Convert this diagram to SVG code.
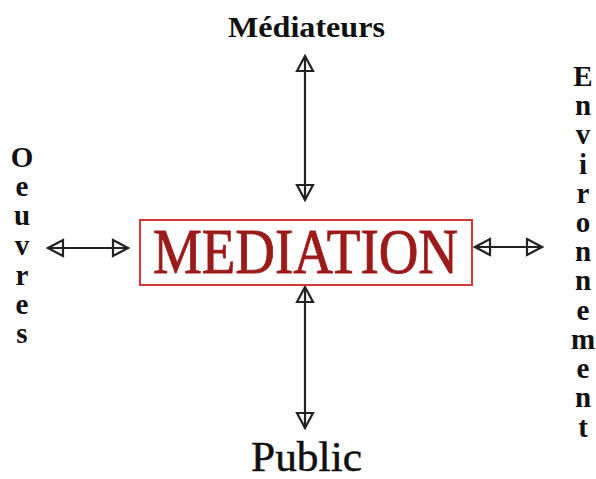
<svg xmlns="http://www.w3.org/2000/svg" width="596" height="479" viewBox="0 0 596 479">
<style>
.lbl{font-family:"Liberation Serif","Times New Roman",serif;fill:#111;}
.vert{font-family:"Liberation Serif","Times New Roman",serif;font-size:29px;font-weight:bold;fill:#111;text-anchor:middle;}
.conn{stroke:#222;stroke-width:2.2;fill:none;marker-start:url(#ah);marker-end:url(#ah);}
</style>
<defs>
<marker id="ah" viewBox="-2 -10 19 20" refX="15" refY="0" markerWidth="19" markerHeight="20" markerUnits="userSpaceOnUse" orient="auto-start-reverse">
<path d="M0,-8 L15,0 L0,8 Z" fill="none" stroke="#222" stroke-width="2.2" stroke-linejoin="miter"/>
</marker>
</defs>
<rect width="596" height="479" fill="#fff"/>
<g id="connectors">
<line class="conn" x1="305" y1="56" x2="305" y2="200"/>
<line class="conn" x1="305" y1="287" x2="305" y2="428"/>
<line class="conn" x1="48" y1="248" x2="128" y2="248"/>
<line class="conn" x1="475" y1="247" x2="542" y2="247"/>
</g>
<g id="mediation">
<rect x="140" y="220" width="332" height="65" fill="#fff" stroke="#d03a3a" stroke-width="2"/>
<text x="153" y="273" font-family="'Liberation Serif','Times New Roman',serif" font-size="64" fill="#9b1b1b" stroke="#9b1b1b" stroke-width="0.9" textLength="305" lengthAdjust="spacingAndGlyphs">MEDIATION</text>
</g>
<g id="mediateurs">
<text class="lbl" x="228" y="37" font-size="29" font-weight="bold" textLength="157" lengthAdjust="spacingAndGlyphs">Médiateurs</text>
</g>
<g id="public">
<text class="lbl" x="251" y="471" font-size="43" stroke="#111" stroke-width="0.5" textLength="111" lengthAdjust="spacingAndGlyphs">Public</text>
</g>
<g id="oeuvres">
<text class="vert" x="22" y="167">O</text>
<text class="vert" x="22" y="196">e</text>
<text class="vert" x="22" y="225">u</text>
<text class="vert" x="22" y="255">v</text>
<text class="vert" x="22" y="285">r</text>
<text class="vert" x="22" y="314">e</text>
<text class="vert" x="22" y="343">s</text>
</g>
<g id="environnement">
<text class="vert" x="583" y="86">E</text>
<text class="vert" x="583" y="115">n</text>
<text class="vert" x="583" y="144">v</text>
<text class="vert" x="583" y="174">i</text>
<text class="vert" x="583" y="203">r</text>
<text class="vert" x="583" y="232">o</text>
<text class="vert" x="583" y="261">n</text>
<text class="vert" x="583" y="290">n</text>
<text class="vert" x="583" y="320">e</text>
<text class="vert" x="583" y="349">m</text>
<text class="vert" x="583" y="378">e</text>
<text class="vert" x="583" y="407">n</text>
<text class="vert" x="583" y="437">t</text>
</g>
</svg>
